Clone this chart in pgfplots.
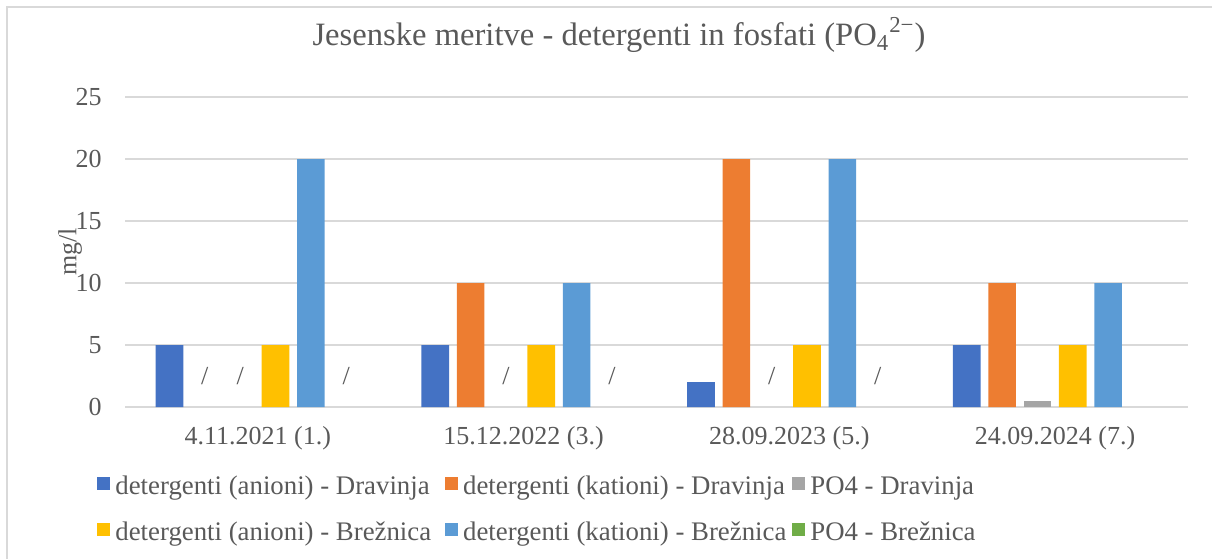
\documentclass[border=0pt]{standalone}
\usepackage{fontspec}
\setmainfont{Liberation Serif}
\usepackage{pgfplots}
\pgfplotsset{compat=1.18}

\definecolor{anD}{HTML}{4472C4}
\definecolor{katD}{HTML}{ED7D31}
\definecolor{poD}{HTML}{A5A5A5}
\definecolor{anB}{HTML}{FFC000}
\definecolor{katB}{HTML}{5B9BD5}
\definecolor{poB}{HTML}{70AD47}
\definecolor{txt}{HTML}{595959}
\definecolor{grd}{HTML}{D9D9D9}

\newcommand{\sm}{\fontsize{13}{15.6}\selectfont}
\newcommand{\legfont}{\fontsize{13.4}{16}\selectfont}

\begin{document}
\begin{tikzpicture}
\useasboundingbox (0,0) rectangle (606pt,279pt);
\begin{axis}[
    at={(62.5pt,75.5pt)}, anchor=south west,
    scale only axis,
    width=531.5pt, height=155pt,
    xmin=-0.5, xmax=3.5,
    ymin=0, ymax=25,
    xtick={0,1,2,3},
    xticklabels={4.11.2021 (1.), 15.12.2022 (3.), 28.09.2023 (5.), 24.09.2024 (7.)},
    ytick={0,5,10,15,20,25},
    ymajorgrids,
    grid style={grd, line width=0.6pt},
    axis line style={draw=none},
    major tick length=0pt,
    tick style={draw=none},
    /pgf/number format/assume math mode=true,
    ticklabel style={font=\sm, text=txt},
    xticklabel style={yshift=-6.2pt},
    yticklabel style={xshift=-8.2pt},
    ylabel={mg/l},
    every axis y label/.style={at={(axis description cs:-0.0517,0.5)}, rotate=90, anchor=center, font=\sm, text=txt},
    title={Jesenske meritve - detergenti in fosfati (PO\textsubscript{4}\textsuperscript{2−})},
    title style={font=\fontsize{16.3}{19.5}\selectfont, text=txt, at={(axis description cs:0.4647,1.161)}, anchor=center},
    legend columns=3,
    legend cell align=left,
    legend image code/.code={\fill[#1, fill opacity=1] (0pt,-1.8pt) rectangle (6.5pt,4.7pt);},
    legend style={
        at={(axis description cs:-0.0263,-0.218)}, anchor=north west,
        draw=none, fill=none, inner sep=0pt,
        font=\legfont, text=txt,
        nodes={inner sep=0.5pt},
        row sep=11pt,
        column sep=2pt,
        /tikz/column 2/.style={column sep=6.5pt},
        /tikz/column 4/.style={column sep=2.5pt},
    },
]
\addplot[ybar, bar width=0.104, bar shift=-0.3325, fill=anD, draw=none]
  coordinates {(0,5) (1,5) (2,2) (3,5)};
\addlegendentry{detergenti (anioni) - Dravinja}
\addplot[ybar, bar width=0.104, bar shift=-0.1995, fill=katD, draw=none]
  coordinates {(1,10) (2,20) (3,10)};
\addlegendentry{detergenti (kationi) - Dravinja}
\addplot[ybar, bar width=0.104, bar shift=-0.0665, fill=poD, draw=none]
  coordinates {(3,0.5)};
\addlegendentry{PO4 - Dravinja}
\addplot[ybar, bar width=0.104, bar shift=0.0665, fill=anB, draw=none]
  coordinates {(0,5) (1,5) (2,5) (3,5)};
\addlegendentry{detergenti (anioni) - Brežnica}
\addplot[ybar, bar width=0.104, bar shift=0.1995, fill=katB, draw=none]
  coordinates {(0,20) (1,10) (2,20) (3,10)};
\addlegendentry{detergenti (kationi) - Brežnica}
\addplot[ybar, bar width=0.104, bar shift=0.3325, fill=poB, draw=none, fill opacity=0]
  coordinates {(3,0)};
\addlegendentry{PO4 - Brežnica}
% missing values shown as "/"
\addplot[draw=none, forget plot, nodes near coords={/},
    every node near coord/.append style={anchor=center, font=\sm, text=txt}]
  coordinates {(-0.1995,2.5) (-0.0665,2.5) (0.3325,2.5) (0.9335,2.5) (1.3325,2.5) (1.9335,2.5) (2.3325,2.5)};
\end{axis}
\draw[grd, line width=0.8pt] (3.5pt,-5pt) -- (3.5pt,275.5pt) -- (620pt,275.5pt);
\end{tikzpicture}
\end{document}
